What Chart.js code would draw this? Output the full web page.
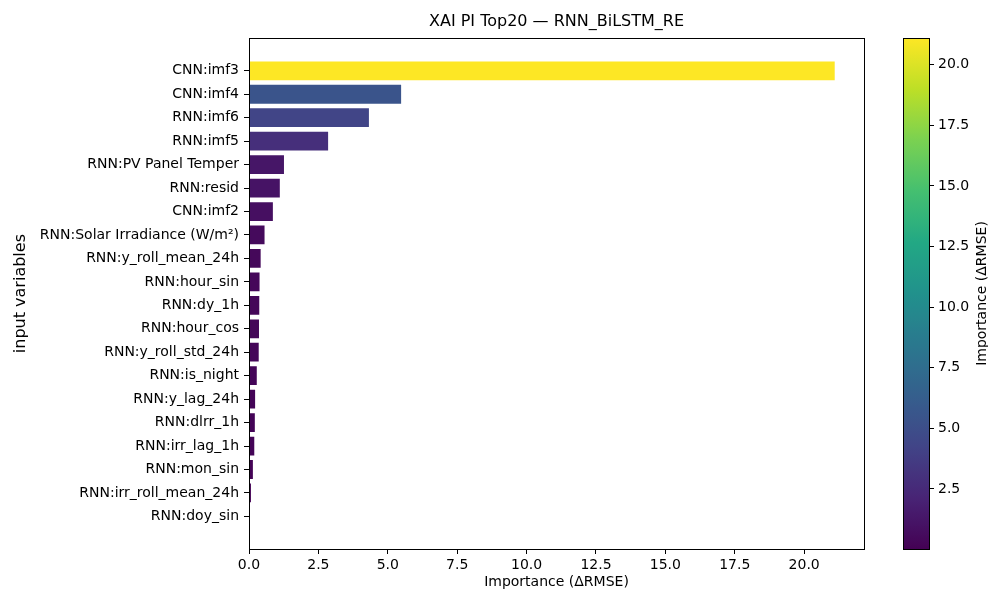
<!DOCTYPE html>
<html>
<head>
<meta charset="utf-8">
<title>XAI PI Top20 — RNN_BiLSTM_RE</title>
<script src="https://cdn.jsdelivr.net/npm/chart.js@4.4.1/dist/chart.umd.min.js"></script>
<style>
  html, body { margin: 0; padding: 0; background: #fff; }
  #wrap { position: relative; width: 988px; height: 592px; }
  #wrap canvas { position: absolute; left: 0; top: 0; }
</style>
</head>
<body>
<div id="wrap">
  <canvas id="importanceChart" width="988" height="592"></canvas>
  <canvas id="colorbarChart" width="988" height="592"></canvas>
</div>
<script>
// permutation importance, top 20 inputs (largest first)
const features = [
  'CNN:imf3', 'CNN:imf4', 'RNN:imf6', 'RNN:imf5', 'RNN:PV Panel Temper',
  'RNN:resid', 'CNN:imf2', 'RNN:Solar Irradiance (W/m²)', 'RNN:y_roll_mean_24h', 'RNN:hour_sin',
  'RNN:dy_1h', 'RNN:hour_cos', 'RNN:y_roll_std_24h', 'RNN:is_night', 'RNN:y_lag_24h',
  'RNN:dlrr_1h', 'RNN:irr_lag_1h', 'RNN:mon_sin', 'RNN:irr_roll_mean_24h', 'RNN:doy_sin'
];
const importance = [
  21.1, 5.48, 4.32, 2.85, 1.26,
  1.11, 0.86, 0.56, 0.42, 0.38,
  0.37, 0.36, 0.35, 0.28, 0.22,
  0.21, 0.19, 0.14, 0.07, 0.02
];
const importanceTicks = [0, 2.5, 5, 7.5, 10, 12.5, 15, 17.5, 20];
const colorbarTicks = [2.5, 5, 7.5, 10, 12.5, 15, 17.5, 20];

const viridisStops = [
  '#440154', '#482475', '#414487', '#355f8d', '#2a788e', '#21918c',
  '#22a884', '#44bf70', '#7ad151', '#bddf26', '#fde725'
];

function hexToRgb(h) {
  return [parseInt(h.slice(1, 3), 16), parseInt(h.slice(3, 5), 16), parseInt(h.slice(5, 7), 16)];
}

function viridis(t) {
  t = Math.min(1, Math.max(0, t));
  const pos = t * (viridisStops.length - 1);
  const i = Math.min(Math.floor(pos), viridisStops.length - 2);
  const f = pos - i;
  const a = hexToRgb(viridisStops[i]);
  const b = hexToRgb(viridisStops[i + 1]);
  const c = a.map((v, k) => Math.round(v + (b[k] - v) * f));
  return `rgb(${c[0]}, ${c[1]}, ${c[2]})`;
}

const vmin = Math.min(...importance);
const vmax = Math.max(...importance);
const norm = (v) => (v - vmin) / (vmax - vmin);

Chart.defaults.font.family = '"DejaVu Sans", sans-serif';
Chart.defaults.color = '#000';

// matplotlib style axes frame
const framePlugin = {
  id: 'frame',
  afterDraw(chart) {
    const { ctx, chartArea: a } = chart;
    ctx.save();
    ctx.strokeStyle = '#000';
    ctx.lineWidth = 1;
    ctx.strokeRect(Math.round(a.left) + 0.5, Math.round(a.top) + 0.5,
      Math.round(a.right - a.left), Math.round(a.bottom - a.top));
    ctx.restore();
  }
};

const n = features.length;
const barHeight = 0.8;
const pad = (n - 1 + barHeight) * 0.05;

new Chart(document.getElementById('importanceChart'), {
  type: 'bar',
  data: {
    datasets: [{
      data: importance.map((v, i) => ({ x: v, y: i })),
      backgroundColor: importance.map((v) => viridis(norm(v))),
      borderWidth: 0,
      barPercentage: barHeight,
      categoryPercentage: 1
    }]
  },
  options: {
    indexAxis: 'y',
    responsive: false,
    animation: false,
    layout: { padding: { top: 0, right: 124, bottom: 0, left: 0 } },
    plugins: {
      legend: { display: false },
      tooltip: { enabled: false },
      title: {
        display: true,
        text: 'XAI PI Top20 — RNN_BiLSTM_RE',
        fullSize: false,
        font: { size: 16, weight: 'normal' },
        padding: { top: 12, bottom: 7 }
      }
    },
    scales: {
      x: {
        type: 'linear',
        min: 0,
        max: vmax * 1.05,
        afterBuildTicks: (s) => { s.ticks = importanceTicks.map((v) => ({ value: v })); },
        afterFit: (s) => { s.height = 43; },
        ticks: { font: { size: 14 }, maxRotation: 0, padding: 3, callback: (v) => v.toFixed(1) },
        grid: { drawOnChartArea: false, tickLength: 5, tickColor: '#000' },
        border: { display: false },
        title: { display: true, text: 'Importance (ΔRMSE)', font: { size: 14 }, padding: { top: 0, bottom: 1 } }
      },
      y: {
        type: 'linear',
        reverse: true,
        offset: false,
        min: -barHeight / 2 - pad,
        max: n - 1 + barHeight / 2 + pad,
        afterBuildTicks: (s) => { s.ticks = features.map((_, i) => ({ value: i })); },
        afterFit: (s) => { s.width = 249; },
        ticks: { font: { size: 14 }, autoSkip: false, padding: 5, callback: (v) => features[v] },
        grid: { offset: false, drawOnChartArea: false, tickLength: 5, tickColor: '#000' },
        border: { display: false },
        title: { display: true, text: 'input variables', font: { size: 16 }, padding: { top: 11 } }
      }
    }
  },
  plugins: [framePlugin]
});

// colour bar for the importance scale
const colorbarLabel = {
  id: 'colorbarLabel',
  afterDraw(chart) {
    const { ctx, chartArea: a } = chart;
    ctx.save();
    ctx.translate(982, (a.top + a.bottom) / 2);
    ctx.rotate(-Math.PI / 2);
    ctx.font = '14px "DejaVu Sans", sans-serif';
    ctx.fillStyle = '#000';
    ctx.textAlign = 'center';
    ctx.textBaseline = 'middle';
    ctx.fillText('Importance (ΔRMSE)', 0, 0);
    ctx.restore();
  }
};

new Chart(document.getElementById('colorbarChart'), {
  type: 'bar',
  data: {
    labels: [''],
    datasets: [{
      data: [[vmin, vmax]],
      barPercentage: 1,
      categoryPercentage: 1,
      borderWidth: 0,
      backgroundColor: (c) => {
        const { chart } = c;
        if (!chart.chartArea) return viridisStops[0];
        const ys = chart.scales.y;
        const g = chart.ctx.createLinearGradient(0, ys.getPixelForValue(vmin), 0, ys.getPixelForValue(vmax));
        for (let k = 0; k <= 40; k++) g.addColorStop(k / 40, viridis(k / 40));
        return g;
      }
    }]
  },
  options: {
    responsive: false,
    animation: false,
    layout: { padding: { top: 38, right: 0, bottom: 43, left: 903 } },
    plugins: { legend: { display: false }, tooltip: { enabled: false } },
    scales: {
      x: { display: false },
      y: {
        position: 'right',
        min: vmin,
        max: vmax,
        afterBuildTicks: (s) => { s.ticks = colorbarTicks.map((v) => ({ value: v })); },
        afterFit: (s) => { s.width = 59; },
        ticks: { font: { size: 14 }, padding: 4, callback: (v) => v.toFixed(1) },
        grid: { drawOnChartArea: false, tickLength: 5, tickColor: '#000' },
        border: { display: false }
      }
    }
  },
  plugins: [framePlugin, colorbarLabel]
});
</script>
</body>
</html>
